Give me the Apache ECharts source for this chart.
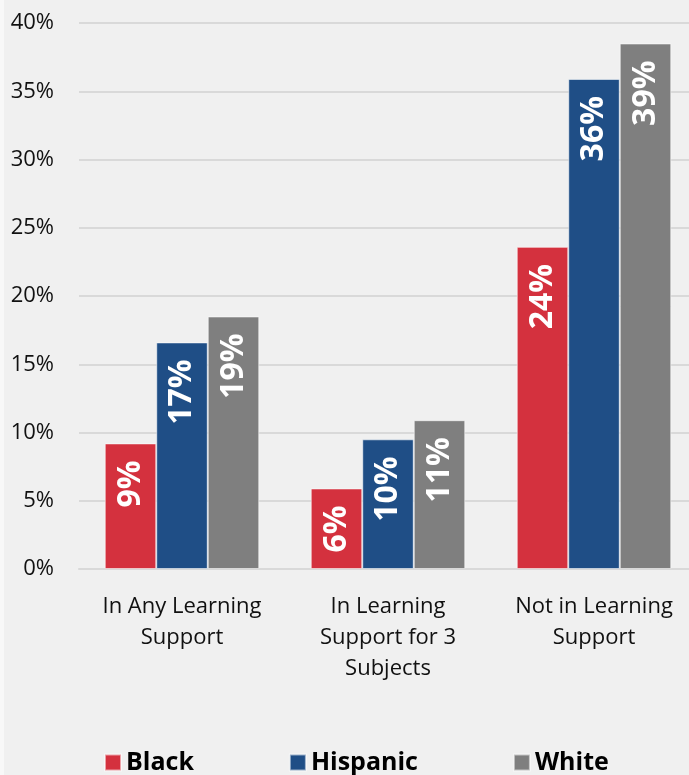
<!DOCTYPE html>
<html>
<head>
<meta charset="utf-8">
<script src="https://cdn.jsdelivr.net/npm/echarts@6/dist/echarts.min.js"></script>
<style>
  html, body { margin: 0; padding: 0; background: #f8f8f8; overflow: hidden; }
  #chart { position: absolute; left: 4px; top: 0; width: 693px; height: 775px; background: #f0f0f0; }
</style>
</head>
<body>
<div id="chart"></div>
<script>
// Learning support participation by group (share of students)
const categories = ['In Any Learning\nSupport', 'In Learning\nSupport for 3\nSubjects', 'Not in Learning\nSupport'];
const groups = ['Black', 'Hispanic', 'White'];
const black = [9.2, 5.9, 23.6];
const hispanic = [16.6, 9.5, 35.9];
const white = [18.5, 10.9, 38.5];
const yTicks = { min: 0, max: 40, interval: 5 };
const colors = ['#d4313e', '#1f4e86', '#7f7f7f'];

const font = '"Open Sans", "Noto Sans", sans-serif';

function barSeries(name, data, color) {
  return {
    name: name,
    type: 'bar',
    data: data,
    barGap: '0%',
    barCategoryGap: '25%',
    itemStyle: { color: color, borderColor: 'rgba(255,255,255,0.55)', borderWidth: 1 },
    label: {
      show: true,
      position: 'insideTop',
      rotate: 90,
      align: 'right',
      verticalAlign: 'middle',
      distance: 17,
      color: '#ffffff',
      fontFamily: font,
      fontWeight: 'bold',
      fontSize: 32,
      formatter: p => Math.round(p.value) + '%'
    }
  };
}

const chart = echarts.init(document.getElementById('chart'));
chart.setOption({
  backgroundColor: '#f0f0f0',
  animation: false,
  color: colors,
  textStyle: { fontFamily: font },
  grid: { left: 75, right: 0, top: 23, bottom: 206, containLabel: false },
  legend: {
    data: groups,
    left: 100,
    top: 750,
    padding: 0,
    itemWidth: 16,
    itemHeight: 16,
    itemGap: 95,
    icon: 'rect',
    textStyle: { fontFamily: font, fontWeight: 'bold', fontSize: 25, color: '#000' }
  },
  xAxis: {
    type: 'category',
    data: categories,
    axisLine: { show: true, lineStyle: { color: '#d9d9d9', width: 2 } },
    axisTick: { show: false },
    axisLabel: { color: '#111', fontSize: 22, lineHeight: 31, margin: 22, fontFamily: font, interval: 0 }
  },
  yAxis: {
    type: 'value',
    min: yTicks.min,
    max: yTicks.max,
    interval: yTicks.interval,
    axisLine: { show: false },
    axisTick: { show: false },
    splitLine: { lineStyle: { color: '#d9d9d9', width: 2 } },
    axisLabel: { color: '#111', fontSize: 22, margin: 25, fontFamily: font, formatter: '{value}%' }
  },
  series: [
    barSeries(groups[0], black, colors[0]),
    barSeries(groups[1], hispanic, colors[1]),
    barSeries(groups[2], white, colors[2])
  ]
});
</script>
</body>
</html>
